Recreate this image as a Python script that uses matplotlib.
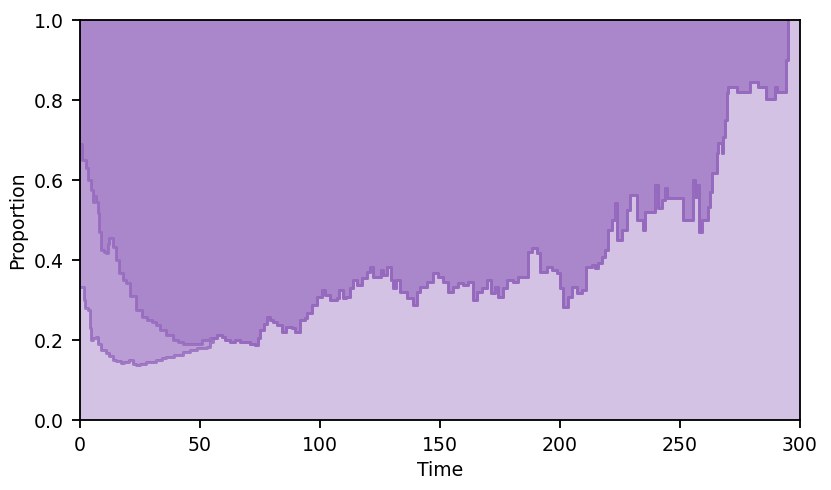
#!/usr/bin/env python3
"""Stacked step proportion plot over time (purple layers)."""

from __future__ import annotations

import numpy as np
import matplotlib

matplotlib.use("Agg")
import matplotlib.pyplot as plt


PURPLE = "#9467bd"
LAYER_ALPHA = 0.4

# early part: the two boundaries are separate until about t=57
UPPER_TIME = [0, 0.8, 2.5, 3.5, 4.6, 5.3, 6.0, 6.7, 7.4, 8.0, 8.7, 10.0, 10.8, 11.5, 12.0,
              13.6, 15.0, 16.4, 18.0, 19.2, 21.0, 23.3, 26.0, 28.0, 30.0, 31.7, 33.3, 36.0,
              38.9, 41.0, 43.0, 46.0, 48.6, 51.0, 54.0]
UPPER_PROP = [0.69, 0.65, 0.63, 0.60, 0.575, 0.546, 0.56, 0.546, 0.517, 0.47, 0.425, 0.42,
              0.417, 0.44, 0.455, 0.433, 0.40, 0.367, 0.35, 0.342, 0.31, 0.275, 0.258, 0.25,
              0.245, 0.237, 0.225, 0.212, 0.20, 0.195, 0.19, 0.19, 0.19, 0.20, 0.205]

LOWER_TIME = [0, 1.5, 2.2, 3.2, 4.0, 4.6, 5.5, 6.7, 7.5, 8.7, 10.8, 12.0, 13.6, 15.0, 17.0,
              18.5, 20.4, 22.0, 23.3, 25.0, 27.5, 29.2, 31.7, 34.0, 36.0, 39.0, 43.0, 46.0,
              48.6, 51.0, 52.8, 54.0, 55.5]
LOWER_PROP = [0.333, 0.30, 0.28, 0.275, 0.23, 0.20, 0.205, 0.208, 0.19, 0.175, 0.167, 0.16,
              0.15, 0.148, 0.142, 0.146, 0.15, 0.14, 0.137, 0.14, 0.146, 0.146, 0.15, 0.154,
              0.158, 0.163, 0.171, 0.175, 0.179, 0.181, 0.183, 0.196, 0.205]

# shared boundary from t=57 onward
SHARED_TIME = [57.0, 59.0, 60.5, 62.5, 64.5, 66.7, 68.5, 70.8, 73.0, 74.0, 75.0, 76.5, 77.8,
               79.0, 80.5, 82.0, 84.0, 86.0, 88.2, 89.6, 91.7, 93.8, 94.4, 96.5, 98.6, 100.7,
               102.0, 104.2, 107.0, 108.0, 109.7, 111.0, 112.5, 113.9, 115.3, 117.4, 119.4,
               120.8, 122.2, 124.3, 125.3, 126.4, 128.0, 129.4, 130.3, 131.7, 133.3, 136.1,
               138.9, 140.3, 141.7, 144.4, 147.2, 149.3, 151.4, 153.5, 155.6, 157.6, 159.7,
               161.8, 163.9, 165.3, 167.4, 169.4, 171.1, 172.9, 174.3, 176.4, 178.0, 180.6,
               182.6, 185.4, 186.8, 188.2, 190.3, 191.7, 194.4, 196.5, 198.6, 200.0, 201.4,
               203.5, 204.9, 207.0, 209.0, 211.0, 213.2, 214.6, 216.0, 217.4, 218.8, 220.1,
               221.5, 222.9, 223.6, 225.7, 227.8, 229.2, 231.9, 234.7, 235.4, 239.6, 241.0,
               242.4, 243.75, 244.4, 251.4, 255.6, 256.2, 256.9, 258.0, 259.0, 261.8, 262.5,
               263.2, 265.3, 266.0, 267.4, 268.0, 268.75, 269.4, 270.1, 273.6, 279.2, 282.6,
               285.8, 289.6, 290.6, 294.0, 295.1]
SHARED_PROP = [0.212, 0.208, 0.20, 0.196, 0.20, 0.196, 0.194, 0.19, 0.188, 0.205, 0.225, 0.24,
               0.258, 0.25, 0.246, 0.238, 0.221, 0.233, 0.23, 0.221, 0.25, 0.254, 0.267,
               0.2875, 0.308, 0.325, 0.3125, 0.30, 0.304, 0.325, 0.304, 0.308, 0.329, 0.35,
               0.3375, 0.354, 0.371, 0.383, 0.358, 0.358, 0.375, 0.3625, 0.383, 0.35, 0.329,
               0.35, 0.321, 0.304, 0.2875, 0.321, 0.333, 0.346, 0.367, 0.358, 0.346, 0.321,
               0.333, 0.342, 0.3375, 0.346, 0.30, 0.321, 0.329, 0.35, 0.317, 0.333, 0.308,
               0.329, 0.35, 0.346, 0.358, 0.358, 0.421, 0.429, 0.417, 0.371, 0.383, 0.375,
               0.367, 0.329, 0.283, 0.308, 0.333, 0.317, 0.325, 0.383, 0.388, 0.379, 0.392,
               0.408, 0.425, 0.475, 0.50, 0.542, 0.45, 0.475, 0.525, 0.5625, 0.50, 0.475,
               0.521, 0.5875, 0.529, 0.55, 0.579, 0.554, 0.50, 0.60, 0.558, 0.5875, 0.471,
               0.50, 0.533, 0.571, 0.617, 0.667, 0.692, 0.667, 0.708, 0.75, 0.817, 0.832,
               0.821, 0.846, 0.833, 0.802, 0.832, 0.821, 0.90, 1.0]

X_MAX = 300


def boundary(early_time: list[float], early_prop: list[float]) -> tuple[np.ndarray, np.ndarray]:
    return (np.asarray(early_time + SHARED_TIME, dtype=float),
            np.asarray(early_prop + SHARED_PROP, dtype=float))


def draw_layers(ax: plt.Axes) -> None:
    # bottom layer covers everything, each boundary adds one more layer above it
    ax.fill_between([0, X_MAX], 0, 1, color=PURPLE, alpha=LAYER_ALPHA, lw=0)
    for early_time, early_prop in ((LOWER_TIME, LOWER_PROP), (UPPER_TIME, UPPER_PROP)):
        t, y = boundary(early_time, early_prop)
        ax.fill_between(t, y, 1, step="post", color=PURPLE, alpha=LAYER_ALPHA, lw=0)
        ax.plot(t, y, drawstyle="steps-post", color=PURPLE, alpha=0.8, lw=1.3)


def main() -> None:
    plt.rcParams["font.size"] = 8.2
    dpi = 166
    fig = plt.figure(figsize=(831 / dpi, 490 / dpi), dpi=dpi)
    ax = fig.add_axes([80 / 831, 70 / 490, 720 / 831, 400 / 490])
    draw_layers(ax)
    ax.set_xlim(0, X_MAX)
    ax.set_ylim(0, 1)
    ax.set_xlabel("Time", labelpad=2.5)
    ax.set_ylabel("Proportion", labelpad=3)
    fig.savefig("out.png", dpi=dpi)
    plt.close(fig)


if __name__ == "__main__":
    main()
